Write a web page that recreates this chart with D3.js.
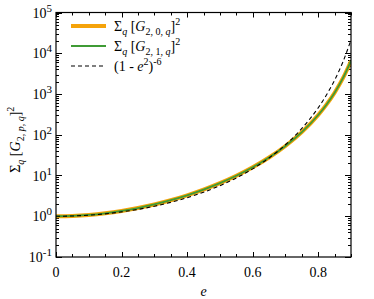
<!DOCTYPE html>
<html>
<head>
<meta charset="utf-8">
<script src="https://cdn.jsdelivr.net/npm/d3@7"></script>
<style>
  body { margin: 0; background: #fff; }
</style>
</head>
<body>
<div id="chart"></div>
<script>
// eccentricity samples
let eValues = [0, 0.05, 0.1, 0.15, 0.2, 0.25, 0.3, 0.35, 0.4, 0.45, 0.5, 0.55, 0.6, 0.65, 0.7, 0.75, 0.8, 0.825, 0.85, 0.875, 0.9];
// sum_q [G_{2,0,q}]^2 (same for p = 1)
let sumG20 = [1, 1.019, 1.078, 1.183, 1.347, 1.590, 1.946, 2.472, 3.265, 4.493, 6.472, 9.824, 15.86, 27.61, 52.99, 115.8, 305.0, 547.0, 1076, 2408, 6471];
let sumG21 = [1, 1.019, 1.078, 1.183, 1.347, 1.590, 1.946, 2.472, 3.265, 4.493, 6.472, 9.824, 15.86, 27.61, 52.99, 115.8, 305.0, 547.0, 1076, 2408, 6471];
// (1 - e^2)^-6
let approx = [1, 1.015, 1.062, 1.146, 1.278, 1.473, 1.761, 2.190, 2.847, 3.887, 5.619, 8.685, 14.55, 26.95, 56.83, 142.6, 459.4, 942.4, 2190, 6030, 21252];

let xTicks = [0, 0.2, 0.4, 0.6, 0.8];
let yExps = [-1, 0, 1, 2, 3, 4, 5];

const W = 374, H = 299;
const margin = {L: 56, R: 23, T: 12.5, B: 42};
const FONT = "'Liberation Serif', 'Times New Roman', Times, serif";

let svg = d3.select("#chart").append("svg")
  .attr("width", W).attr("height", H)
  .attr("font-family", FONT);

let x = d3.scaleLinear().domain([0, 0.9]).range([margin.L, W - margin.R]);
let y = d3.scaleLog().domain([0.1, 1e5]).range([H - margin.B, margin.T]);

let x0 = x.range()[0], x1 = x.range()[1];
let y0 = y.range()[0], y1 = y.range()[1];

/* minor + major ticks */
let g = svg.append("g").attr("stroke", "#000").attr("stroke-width", 1);
d3.range(0, 0.9001, 0.05).forEach((v) => {
  let major = xTicks.some((t) => Math.abs(t - v) < 1e-6);
  let len = major ? 5 : 3;
  let px = Math.round(x(v)) + 0.5;
  g.append("line").attr("x1", px).attr("x2", px).attr("y1", y0).attr("y2", y0 - len);
  g.append("line").attr("x1", px).attr("x2", px).attr("y1", y1).attr("y2", y1 + len);
});
yExps.forEach((ex) => {
  if (ex < 5) {
    for (let k = 2; k <= 9; k++) {
      let py = Math.round(y(k * Math.pow(10, ex))) + 0.5;
      g.append("line").attr("x1", x0).attr("x2", x0 + 3).attr("y1", py).attr("y2", py);
      g.append("line").attr("x1", x1).attr("x2", x1 - 3).attr("y1", py).attr("y2", py);
    }
  }
  let py = Math.round(y(Math.pow(10, ex))) + 0.5;
  g.append("line").attr("x1", x0).attr("x2", x0 + 6).attr("y1", py).attr("y2", py);
  g.append("line").attr("x1", x1).attr("x2", x1 - 6).attr("y1", py).attr("y2", py);
});

/* tick labels */
svg.append("g").selectAll("text").data(xTicks).join("text")
  .attr("x", (d) => x(d)).attr("y", y0 + 20)
  .attr("text-anchor", "middle").attr("font-size", 14)
  .text((d) => d === 0 ? "0" : d3.format(".1f")(d));

let yl = svg.append("g").selectAll("text").data(yExps).join("text")
  .attr("y", (d) => y(Math.pow(10, d)) + 5)
  .attr("font-size", 14);
yl.append("tspan").text("10");
yl.append("tspan").attr("dy", -6).attr("font-size", 11).text((d) => d);
yl.each(function(d) {
  d3.select(this).attr("x", x0 - 4 - this.getComputedTextLength());
});

/* axis titles */
svg.append("text").attr("x", x(0.45)).attr("y", y0 + 39)
  .attr("text-anchor", "middle").attr("font-size", 14).attr("font-style", "italic").text("e");

let yt = svg.append("text")
  .attr("transform", `translate(20, ${(y0 + y1) / 2 + 5}) rotate(-90)`)
  .attr("text-anchor", "middle").attr("font-size", 14);
yt.append("tspan").text("Σ");
yt.append("tspan").attr("dy", 4).attr("font-size", 10).attr("font-style", "italic").text("q");
yt.append("tspan").attr("dy", -4).text(" [");
yt.append("tspan").attr("font-style", "italic").text("G");
yt.append("tspan").attr("dy", 4).attr("font-size", 10).text("2, ");
yt.append("tspan").attr("font-size", 10).attr("font-style", "italic").text("p");
yt.append("tspan").attr("font-size", 10).text(", ");
yt.append("tspan").attr("font-size", 10).attr("font-style", "italic").text("q");
yt.append("tspan").attr("dy", -4).text("]");
yt.append("tspan").attr("dy", -6).attr("font-size", 10).text("2");

/* curves */
svg.append("clipPath").attr("id", "clip").append("rect")
  .attr("x", x0).attr("y", y1).attr("width", x1 - x0).attr("height", y0 - y1);
let line = (vals) => d3.line()
  .x((d, i) => x(eValues[i]))
  .y((d) => y(d))
  .curve(d3.curveMonotoneX)(vals);
let plot = svg.append("g").attr("clip-path", "url(#clip)");
plot.append("path").attr("d", line(sumG20)).attr("fill", "none")
  .attr("stroke", "#f5a30a").attr("stroke-width", 4);
plot.append("path").attr("d", line(sumG21)).attr("fill", "none")
  .attr("stroke", "#3f9b35").attr("stroke-width", 1.8);
plot.append("path").attr("d", line(approx)).attr("fill", "none")
  .attr("stroke", "#000").attr("stroke-width", 1.1).attr("stroke-dasharray", "4,3");

/* frame */
svg.append("rect").attr("x", x0).attr("y", y1).attr("width", x1 - x0).attr("height", y0 - y1)
  .attr("fill", "none").attr("stroke", "#000").attr("stroke-width", 1.2);

/* legend */
let legend = [
  {color: "#f5a30a", w: 4, dash: null, p: "0"},
  {color: "#3f9b35", w: 2, dash: null, p: "1"},
  {color: "#000", w: 1.1, dash: "4,3", p: null}
];
legend.forEach((d, i) => {
  let ly = 26 + i * 20;
  svg.append("line").attr("x1", 71).attr("x2", 106).attr("y1", ly).attr("y2", ly)
    .attr("stroke", d.color).attr("stroke-width", d.w).attr("stroke-dasharray", d.dash);
  let t = svg.append("text").attr("x", 114).attr("y", ly + 5).attr("font-size", 14);
  if (d.p !== null) {
    t.append("tspan").text("Σ");
    t.append("tspan").attr("dy", 4).attr("font-size", 10).attr("font-style", "italic").text("q");
    t.append("tspan").attr("dy", -4).text(" [");
    t.append("tspan").attr("font-style", "italic").text("G");
    t.append("tspan").attr("dy", 4).attr("font-size", 10).text(`2, ${d.p}, `);
    t.append("tspan").attr("font-size", 10).attr("font-style", "italic").text("q");
    t.append("tspan").attr("dy", -4).text("]");
    t.append("tspan").attr("dy", -6).attr("font-size", 10).text("2");
  } else {
    t.append("tspan").text("(1 - ");
    t.append("tspan").attr("font-style", "italic").text("e");
    t.append("tspan").attr("dy", -6).attr("font-size", 10).text("2");
    t.append("tspan").attr("dy", 6).text(")");
    t.append("tspan").attr("dy", -6).attr("font-size", 10).text("-6");
  }
});
</script>
</body>
</html>
